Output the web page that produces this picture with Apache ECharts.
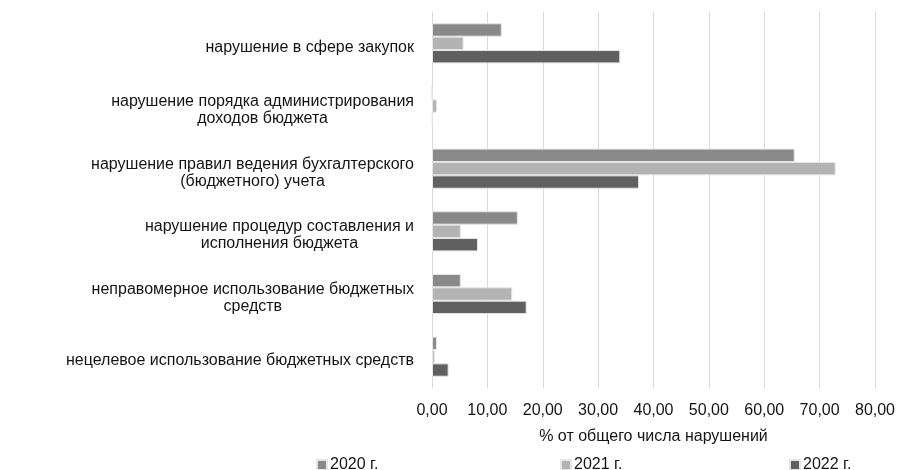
<!DOCTYPE html>
<html><head><meta charset="utf-8">
<script src="https://cdn.jsdelivr.net/npm/echarts@6/dist/echarts.min.js"></script>
<style>html,body{margin:0;padding:0;background:#fff}#c{width:899px;height:470px}</style>
</head><body><div id="c"></div>
<script>
const categories = [
  "нарушение в сфере закупок",
  "нарушение порядка администрирования\nдоходов бюджета",
  "нарушение правил ведения бухгалтерского\n(бюджетного) учета",
  "нарушение процедур составления и\nисполнения бюджета",
  "неправомерное использование бюджетных\nсредств",
  "нецелевое использование бюджетных средств"
];
const seriesNames = ["2020 г.", "2021 г.", "2022 г."];
const values2020 = [12.6, 0, 65.5, 15.5, 5.2, 0.9];
const values2021 = [5.7, 0.9, 72.9, 5.2, 14.5, 0.5];
const values2022 = [34.0, 0.1, 37.4, 8.3, 17.1, 3.0];
const xTicks = [0, 10, 20, 30, 40, 50, 60, 70, 80];
const axisTitle = "% от общего числа нарушений";

const colors = ["#898989", "#b3b3b3", "#606060"];
const textColor = "#141414";
const font = "'Liberation Sans', Arial, sans-serif";
const chart = echarts.init(document.getElementById('c'));
const allValues = [values2020, values2021, values2022];
const legendLefts = [311, 555, 784];
chart.setOption({
  animation: false,
  color: colors,
  textStyle: {fontFamily: font},
  grid: {left: 432, right: 24, top: 12, bottom: 82, containLabel: false},
  legend: seriesNames.map((n, i) => ({
    data: [n], left: legendLefts[i], top: 452, itemWidth: 10, itemHeight: 10, icon: 'rect', itemGap: 6,
    textStyle: {fontSize: 16, color: textColor, fontFamily: font, padding: [0, 0, 0, -2]}
  })),
  xAxis: {
    type: 'value', min: xTicks[0], max: xTicks[xTicks.length - 1], interval: 10,
    name: axisTitle, nameLocation: 'middle', nameGap: 41,
    nameTextStyle: {fontSize: 16, color: textColor, fontFamily: font},
    axisLine: {show: false}, axisTick: {show: false},
    axisLabel: {fontSize: 16, color: textColor, margin: 15, fontFamily: font, formatter: v => v.toFixed(2).replace('.', ',')},
    splitLine: {lineStyle: {color: '#d9d9d9', width: 1}}
  },
  yAxis: {
    type: 'category', data: categories, inverse: true,
    axisLine: {lineStyle: {color: '#d9d9d9'}}, axisTick: {show: false},
    axisLabel: {
      margin: 18, fontSize: 16, color: textColor, lineHeight: 17, padding: [8, 0, 0, 0],
      formatter: s => s.split('\n').map(l => '{c|' + l + '}').join('\n'),
      rich: {c: {align: 'center', fontSize: 16, color: textColor, fontFamily: font, lineHeight: 17}}
    }
  },
  series: seriesNames.map((n, i) => ({
    name: n, type: 'bar', data: allValues[i], barGap: '0%', barCategoryGap: '36%',
    itemStyle: {borderColor: '#e6e6e6', borderWidth: 1}
  }))
});
</script></body></html>
